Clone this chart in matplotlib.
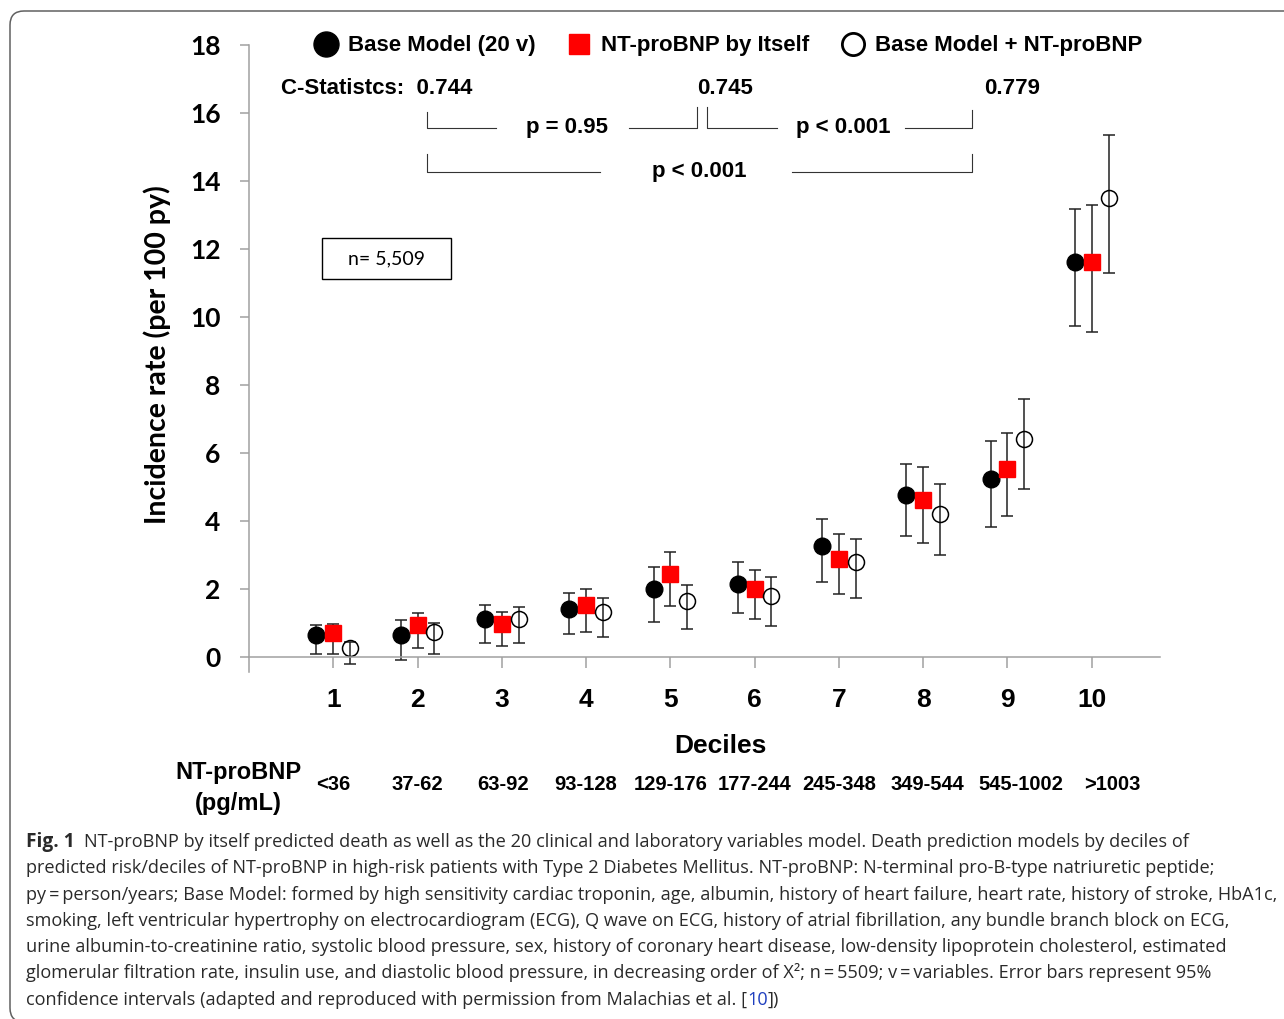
import numpy as np
import matplotlib.pyplot as plt
from matplotlib.lines import Line2D
from matplotlib.patches import FancyBboxPatch, Rectangle
from matplotlib.transforms import IdentityTransform, blended_transform_factory

# --- data ---
deciles = np.arange(1, 11)
ranges = ['<36', '37-62', '63-92', '93-128', '129-176', '177-244',
          '245-348', '349-544', '545-1002', '>1003']

base = np.array([0.66, 0.66, 1.13, 1.40, 2.00, 2.15, 3.27, 4.77, 5.25, 11.63])
base_lo = np.array([0.10, -0.10, 0.41, 0.69, 1.04, 1.28, 2.22, 3.56, 3.82, 9.73])
base_hi = np.array([0.93, 1.08, 1.52, 1.87, 2.66, 2.78, 4.07, 5.68, 6.34, 13.18])

ntp = np.array([0.70, 0.94, 0.97, 1.53, 2.43, 2.00, 2.87, 4.62, 5.52, 11.62])
ntp_lo = np.array([0.10, 0.26, 0.31, 0.73, 1.49, 1.12, 1.86, 3.35, 4.15, 9.57])
ntp_hi = np.array([0.97, 1.28, 1.32, 1.99, 3.10, 2.57, 3.63, 5.60, 6.59, 13.30])

comb = np.array([0.27, 0.73, 1.13, 1.32, 1.64, 1.78, 2.80, 4.22, 6.42, 13.50])
comb_lo = np.array([-0.21, 0.10, 0.41, 0.58, 0.81, 0.92, 1.74, 3.00, 4.93, 11.29])
comb_hi = np.array([0.45, 1.00, 1.48, 1.75, 2.11, 2.34, 3.47, 5.09, 7.60, 15.35])

labels = ['Base Model (20 v)', 'NT-proBNP by Itself', 'Base Model + NT-proBNP']
c_stats = ['0.744', '0.745', '0.779']
p_vals = ['p = 0.95', 'p < 0.001', 'p < 0.001']

caption = [
    'NT-proBNP by itself predicted death as well as the 20 clinical and laboratory variables model. Death prediction models by deciles of',
    'predicted risk/deciles of NT-proBNP in high-risk patients with Type 2 Diabetes Mellitus. NT-proBNP: N-terminal pro-B-type natriuretic peptide;',
    'py\u2009=\u2009person/years; Base Model: formed by high sensitivity cardiac troponin, age, albumin, history of heart failure, heart rate, history of stroke, HbA1c,',
    'smoking, left ventricular hypertrophy on electrocardiogram (ECG), Q wave on ECG, history of atrial fibrillation, any bundle branch block on ECG,',
    'urine albumin-to-creatinine ratio, systolic blood pressure, sex, history of coronary heart disease, low-density lipoprotein cholesterol, estimated',
    'glomerular filtration rate, insulin use, and diastolic blood pressure, in decreasing order of X\u00b2; n\u2009=\u20095509; v\u2009=\u2009variables. Error bars represent 95%',
    'confidence intervals (adapted and reproduced with permission from Malachias et al. [',
]

W, H = 1284, 1019


def fx(px):
    return px / W


def fy(py):
    return 1 - py / H


ARIAL = ['Liberation Sans', 'DejaVu Sans']
CALIBRI = ['Lato', 'DejaVu Sans']
CAPFONT = ['Open Sans', 'DejaVu Sans']

fig = plt.figure(figsize=(W / 100, H / 100), dpi=100)

# rounded frame around the whole figure
frame = FancyBboxPatch((10, -3), 1300, H - 11 + 3, boxstyle='round,pad=0,rounding_size=14',
                       transform=IdentityTransform(), facecolor='none',
                       edgecolor='#606060', linewidth=1.1)
fig.patches.append(frame)

ax = fig.add_axes([fx(249), fy(672.3), fx(1160) - fx(249), fy(45) - fy(672.3)])
ax.set_xlim(0, 10.81)
ax.set_ylim(-0.45, 18)

off = 0.2
eb = dict(ecolor='#222222', elinewidth=1.1, capsize=4, capthick=1.1, linestyle='none')
ax.errorbar(deciles - off, base, yerr=[base - base_lo, base_hi - base], fmt='o',
            ms=12, mfc='black', mec='black', **eb)
ax.errorbar(deciles, ntp, yerr=[ntp - ntp_lo, ntp_hi - ntp], fmt='s',
            ms=11.5, mfc='#ff0000', mec='#ff0000', **eb)
ax.errorbar(deciles + off, comb, yerr=[comb - comb_lo, comb_hi - comb], fmt='o',
            ms=11.5, mfc='none', mec='black', mew=1.1, **eb)

for s in ['top', 'right']:
    ax.spines[s].set_visible(False)
ax.spines['bottom'].set_position(('data', 0))
for s in ['left', 'bottom']:
    ax.spines[s].set_color('#a0a0a0')
    ax.spines[s].set_linewidth(1.1)

ax.set_xticks(deciles)
ax.set_xticklabels([str(d) for d in deciles], family=ARIAL, weight='bold', fontsize=19)
ax.set_yticks(np.arange(0, 19, 2))
ax.set_yticklabels([str(v) for v in range(0, 19, 2)], family=CALIBRI, weight='bold', fontsize=19)
ax.tick_params(axis='x', direction='out', length=8, width=1.1, color='#a0a0a0', pad=14)
ax.tick_params(axis='y', direction='out', length=6.5, width=1.1, color='#a0a0a0', pad=14)

# legend
handles = [
    Line2D([], [], marker='o', linestyle='none', ms=18, mfc='black', mec='black'),
    Line2D([], [], marker='s', linestyle='none', ms=15, mfc='#ff0000', mec='#ff0000'),
    Line2D([], [], marker='o', linestyle='none', ms=16, mfc='white', mec='black', mew=2),
]
ax.legend(handles, labels, ncol=3, frameon=False, loc='center',
          bbox_to_anchor=((728 - 249) / 911, (672.3 - 46) / 627.3),
          prop=dict(family=ARIAL, weight='bold', size=16),
          handlelength=1.1, handletextpad=0.45, columnspacing=1.4, borderaxespad=0)

# C-statistics and p-value brackets
tf = fig.transFigure
bold16 = dict(family=ARIAL, weight='bold', fontsize=16)
fig.text(fx(281), fy(88), 'C-Statistcs:  ' + c_stats[0], ha='left', va='center', **bold16)
fig.text(fx(725), fy(88), c_stats[1], ha='center', va='center', **bold16)
fig.text(fx(1012), fy(88), c_stats[2], ha='center', va='center', **bold16)


def bracket(x0, x1, y, top0, top1, g0, g1, text, tx):
    lk = dict(color='#333333', linewidth=0.8, transform=tf)
    fig.add_artist(Line2D([fx(x0), fx(x0), fx(g0)], [fy(top0), fy(y), fy(y)], **lk))
    fig.add_artist(Line2D([fx(g1), fx(x1), fx(x1)], [fy(y), fy(y), fy(top1)], **lk))
    fig.text(fx(tx), fy(y - 1), text, ha='center', va='center', **bold16)


bracket(427, 697, 128, 112, 107, 496, 629, p_vals[0], 567)
bracket(707, 972, 128, 107, 110, 777, 905, p_vals[1], 843)
bracket(427, 972, 172, 154, 154, 600, 792, p_vals[2], 699)

# n box
ax.add_patch(Rectangle((fx(322), fy(279)), fx(451) - fx(322), fy(238) - fy(279),
                       transform=tf, facecolor='white', edgecolor='black',
                       linewidth=1.0))
fig.text(fx(386.5), fy(259), 'n= 5,509', ha='center', va='center',
         family=CALIBRI, fontsize=14)

# axis titles
fig.text(fx(157), fy(355), 'Incidence rate (per 100 py)', rotation=90,
         ha='center', va='center', family=CALIBRI, weight='bold', fontsize=20.5)
fig.text(fx(720), fy(746), 'Deciles', ha='center', va='center', **dict(bold16, fontsize=19))
fig.text(fx(238), fy(788), 'NT-proBNP\n(pg/mL)', ha='center', va='center',
         linespacing=1.4, **dict(bold16, fontsize=17))

# NT-proBNP ranges under each decile (last ones sit a little to the right)
bt = blended_transform_factory(ax.transData, tf)
nudges = [0, 0, 0.02, 0, 0, 0, 0, 0.05, 0.16, 0.24]
for d, r, n in zip(deciles, ranges, nudges):
    ax.text(d + n, fy(785), r, transform=bt, ha='center', va='center',
            family=ARIAL, weight='bold', fontsize=14.5)

# caption
capk = dict(family=CAPFONT, fontsize=13.05, color='#2a2a2a', va='baseline')
fig.canvas.draw()
rend = fig.canvas.get_renderer()
base_y = 847
dy = 26.3
t = fig.text(fx(26), fy(base_y), 'Fig. 1', weight='bold', **dict(capk, fontsize=13.8))
x_end = t.get_window_extent(rend).x1
fig.text(x_end / W + fx(9), fy(base_y), caption[0], **capk)
for i, line in enumerate(caption[1:], start=1):
    t = fig.text(fx(26), fy(base_y + i * dy), line, **capk)
x_end = t.get_window_extent(rend).x1
t2 = fig.text(x_end / W, fy(base_y + 6 * dy), '10', **dict(capk, color='#1f3fbf'))
x_end = t2.get_window_extent(rend).x1
fig.text(x_end / W, fy(base_y + 6 * dy), '])', **capk)

fig.savefig('out.png', dpi=100)
